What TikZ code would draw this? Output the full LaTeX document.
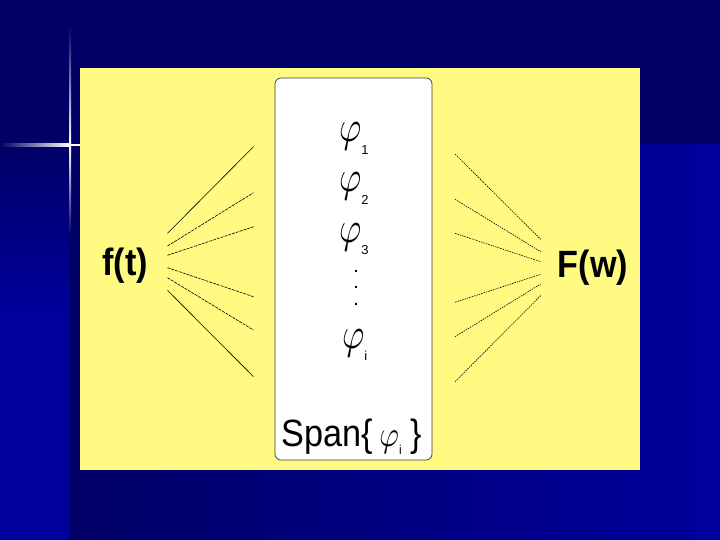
\documentclass[tikz,border=0pt]{standalone}
\usepackage{fontspec}
\setmainfont{Liberation Sans}
\newfontfamily\labelfont[FakeStretch=0.9]{Liberation Sans}
\usepackage{graphicx}
\usetikzlibrary{positioning}
\definecolor{navydark}{HTML}{000066}
\definecolor{navybright}{HTML}{00009C}
\definecolor{padyellow}{HTML}{FFFB82}
\definecolor{boxgray}{HTML}{3A3A3A}

% phi with its index below right: index, x-scale, y-scale, drop of index
\newcommand{\basisfn}[4]{{\fontsize{10}{12}\selectfont\scalebox{#2}[#3]{$\varphi$}\raisebox{-#4}{\fontsize{13}{13}\selectfont #1}}}

\tikzset{
  lbl/.style={font=\labelfont\fontsize{38}{38}\selectfont, inner sep=0pt, text=black},
  phinode/.style={inner sep=0pt, anchor=base west},
  fanline/.style={black, line width=0.6pt},
  fandash/.style={dash pattern=on 3pt off 1pt},
  fandot/.style={dash pattern=on 1.5pt off 1pt}
}

\begin{document}
\begin{tikzpicture}[x=1pt, y=-1pt]
  \useasboundingbox (0,0) rectangle (720,540);
  % slide background
  \fill[navybright] (0,0) rectangle (720,540);
  \fill[navydark] (0,0) rectangle (720,145);
  \shade[top color=navydark, bottom color=navybright] (0,145) rectangle (70,320);
  \shade[left color=navydark, right color=navybright] (70,145) rectangle (720,540);
  % glint
  \shade[left color=navydark, right color=white] (0,144) rectangle (70,146.2);
  \fill[white] (70,144) rectangle (80,146.2);
  \shade[top color=navydark, bottom color=white] (69,25) rectangle (71.2,145);
  \shade[top color=white, bottom color=navydark] (69,145) rectangle (71.2,235);

  \fill[padyellow] (80,68) rectangle (640,470);
  \node[draw=boxgray, fill=white, rounded corners=6pt, line width=0.7pt,
        minimum width=157pt, minimum height=382pt, inner sep=0pt] (spanbox) at (353.5,269) {};

  \node[lbl, anchor=base] (ft) at (125,275) {\bfseries f(t)};
  \node[lbl, anchor=base] (Fw) at (593,277) {\bfseries F(w)};

  \node[phinode] (phi1) at (339,142) {\basisfn{1}{3.4}{4.4}{13pt}};
  \node[phinode] (phi2) at (339,192) {\basisfn{2}{3.4}{4.4}{13pt}};
  \node[phinode] (phi3) at (339,242) {\basisfn{3}{3.4}{4.4}{13pt}};
  \node[inner sep=0pt, anchor=north, align=center, font=\bfseries\fontsize{14}{16.4}\selectfont] (vdots)
    at (356,270) {.\\.\\.};
  \node[phinode] (phii) at (342,348) {\basisfn{i}{3.4}{4.4}{12pt}};
  \node[lbl, anchor=base west] (span) at (281,446.7)
    {Span\{\hspace{7pt}\basisfn{i}{3.0}{3.6}{8pt}\hspace{9pt}\}};

  % lines fanning out of f(t) and into F(w)
  \foreach \ya/\yb/\sty [count=\k] in {233.3/146.7/solid, 246/192.7/fandash, 255.3/226.7/fandash,
      267.7/296.7/fandash, 277.7/330/fandash, 290.3/376.7/solid} {
    \coordinate (ls\k) at (167.5,\ya);
    \coordinate (le\k) at (253.5,\yb);
    \draw[fanline, \sty] (ls\k) -- (le\k);
  }
  \foreach \ya/\yb [count=\k] in {154/239.3, 199.3/251.7, 233.3/261.7,
      302.3/274.3, 336.7/284, 381.7/295.7} {
    \coordinate (rs\k) at (455,\ya);
    \coordinate (re\k) at (540.7,\yb);
    \draw[fanline, fandot] (rs\k) -- (re\k);
  }
\end{tikzpicture}
\end{document}
